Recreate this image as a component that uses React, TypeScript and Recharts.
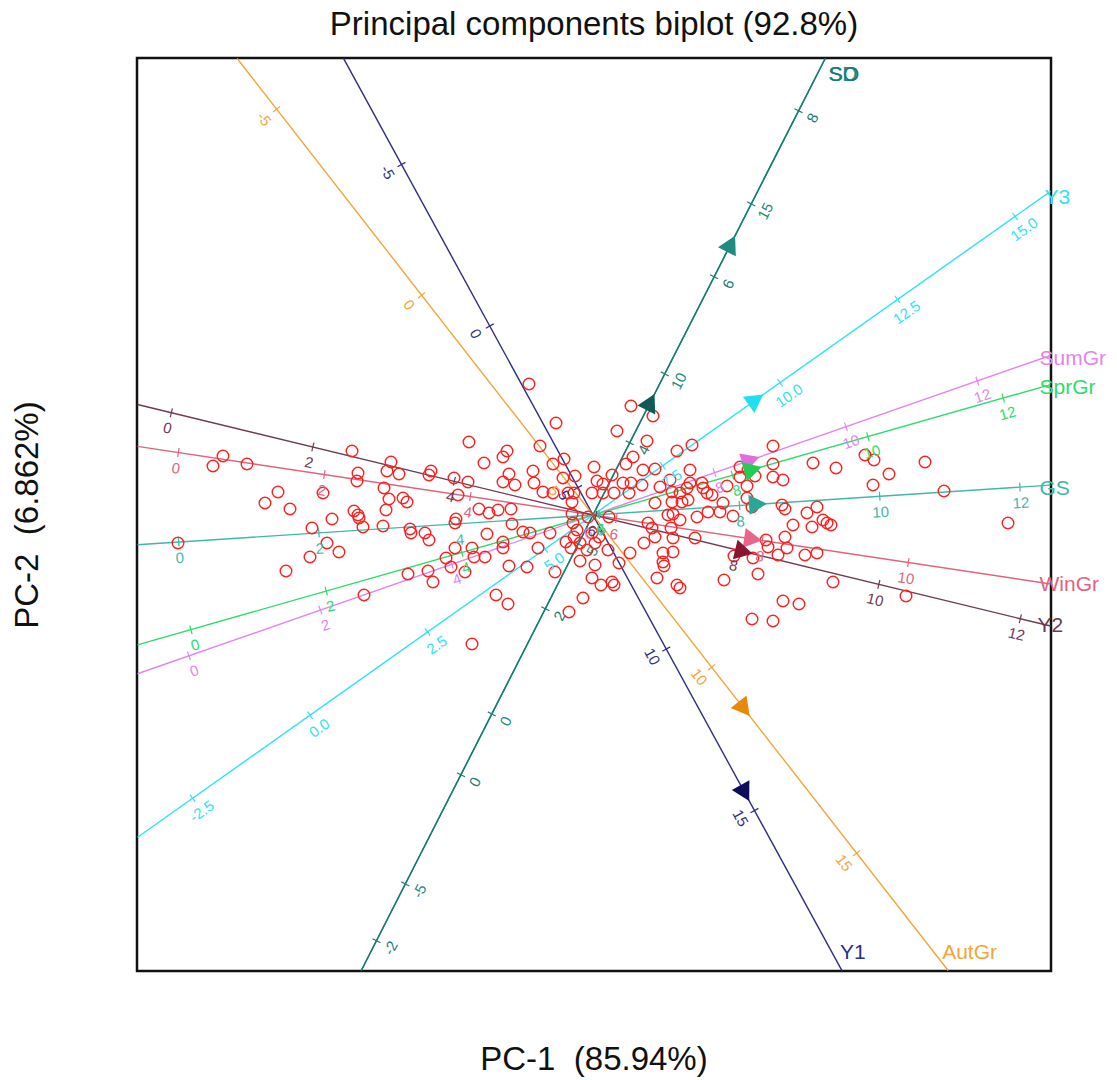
import React from 'react'
import { ScatterChart, Scatter, XAxis, YAxis, ReferenceLine, ReferenceArea } from 'recharts'

// genotype scores (PC-1, PC-2)
const pc1 = [
  -1.24, -0.86, -0.9, -1.09, -2.41, -3.7, -3.8, -3.46, -2.02, -2.35, -2.36, -2.06, -1.94, -1.62, -1.64, -1.39, -1.25, -0.84,
  -0.9, -0.78, -2.7, -3.15, -3.28, -3.03, -2.09, -2.04, -1.9, -1.86, -2.07, -2.61, -2.39, -2.35, -2.34, -2.3, -2.1, -1.35,
  -1.14, -1.04, -0.95, -0.82, -1.37, -1.38, -0.81, -2.81, -1.83, -1.82, -1.68, -1.64, -1.06, -4.15, -2.66, -2.54, -2.83, -3.07,
  -1.38, -1.21, -1.19, -1.08, -0.9, -0.9, -1.47, -1.42, -1.28, -0.84, -1.85, -1.65, -1.6, -2.29, -0.97, -0.85, -1.21,
  -0.64, -0.37, -0.53, 0.24, 0.38, -0.6, -0.4, -0.29, 0.01, 0.19, 0.33, 0.4, 0.5, -0.59, -0.5, -0.3, -0.18, 0.04, 0.1, 0.3,
  0.38, 0.49, -0.4, -0.25, -0.19, -0.01, 0.1, 0.21, 0.36, -0.21, -0.21, -0.2, -0.05, 0.16, -0.63, -0.7, -0.16, -0.19, -0.01,
  0.06, -0.27, -0.22, -0.13, -0.06, 0.02, 0.15, -0.55, 0.37, 0.51, -0.43, -0.66, -0.13, 0.02, -0.38, -0.01, 0.08, 0.19, 0.21,
  0.26, -0.1, -0.24,
  0.6, 0.54, 0.84, 0.99, 1.8, 2.2, 2.43, 1.8, 1.8, 1.9, 1.62, 1.55, 1.47, 1.47, 1.34, 1.54, 0.62, 0.67, 0.77, 0.79, 0.97, 0.97,
  0.94, 1.09, 1.1, 1.14, 0.87, 0.62, 0.79, 0.89, 0.95, 1.19, 1.3, 1.27, 1.54, 1.59, 1.89, 1.92, 2.14, 2.24, 2.3, 2.34, 2.38,
  2.19, 2.0, 1.4, 1.15, 1.04, 0.75, 0.8, 0.87, 0.55, 0.59, 0.78, 0.62, 0.8, 0.8, 0.7, 1.02, 1.73, 1.75, 1.92, 1.94, 1.85, 2.12,
  2.24, 1.41, 2.72, 2.81, 2.96, 2.8, 3.32, 3.51, 4.15,
  0.7, 0.71, 0.64, 0.84, 0.87, 1.31, 1.65, 1.6, 2.4, 1.9, 2.06, 1.59, 1.8, 3.13,
]
const pc2 = [
  0.73, 0.64, 0.58, 0.52, 0.64, 0.59, 0.49, 0.51, 0.53, 0.42, 0.34, 0.44, 0.41, 0.44, 0.4, 0.37, 0.33, 0.41,
  0.33, 0.3, 0.22, 0.23, 0.12, 0.06, 0.27, 0.16, 0.17, 0.13, 0.05, -0.04, 0.04, 0.0, -0.03, -0.12, -0.11, 0.2,
  0.06, 0.02, 0.05, 0.06, -0.04, -0.08, -0.09, -0.13, -0.14, -0.18, -0.18, -0.25, -0.19, -0.28, -0.28, -0.37, -0.42, -0.56,
  -0.33, -0.33, -0.42, -0.42, -0.27, -0.33, -0.43, -0.52, -0.57, -0.51, -0.59, -0.56, -0.67, -0.8, -0.8, -0.89, -1.29,
  1.31, 0.92, 0.69, 0.84, 1.09, 0.44, 0.51, 0.56, 0.48, 0.4, 0.51, 0.58, 0.45, 0.32, 0.23, 0.37, 0.39, 0.34, 0.31, 0.32,
  0.32, 0.3, 0.22, 0.22, 0.22, 0.22, 0.22, 0.22, 0.22, 0.13, 0.01, -0.08, -0.02, -0.02, -0.18, -0.17, -0.15, -0.22, -0.18,
  -0.22, -0.27, -0.33, -0.28, -0.35, -0.28, -0.35, -0.33, -0.38, -0.28, -0.18, -0.52, -0.46, -0.5, -0.57, -0.63, -0.7, -0.67, -0.7,
  -0.48, -0.83, -0.97,
  0.99, 0.74, 0.64, 0.7, 0.69, 0.52, 0.47, 0.51, 0.38, 0.35, 0.39, 0.45, 0.48, 0.38, 0.29, 0.29, 0.46, 0.28, 0.35, 0.23, 0.45, 0.32,
  0.27, 0.32, 0.27, 0.22, 0.22, 0.12, 0.13, 0.13, 0.15, 0.2, 0.12, 0.03, 0.17, 0.08, 0.1, 0.06, 0.02, 0.08, -0.05, -0.08, -0.1,
  -0.12, -0.1, -0.01, 0.03, -0.02, 0.0, 0.01, -0.05, -0.08, -0.13, -0.13, -0.22, -0.23, -0.37, -0.38, -0.23, -0.25, -0.32, -0.22, -0.33, -0.4, -0.4,
  -0.38, -0.41, 0.6, 0.55, 0.41, 0.3, 0.53, 0.24, -0.08,
  -0.47, -0.51, -0.63, -0.7, -0.73, -0.65, -0.59, -0.43, -0.67, -0.86, -0.89, -1.04, -1.06, -0.81,
]

// trait axes: value at origin, displacement per unit, calibration ticks, vector marker
const traits = ['SD', 'SO', 'Y3', 'SumGr', 'SprGr', 'GS', 'WinGr', 'Y2', 'Y1', 'AutGr']
const traitMean = [5.85, 3.13, 6.02, 6.15, 5.94, 5.91, 5.68, 5.96, 5.85, 5.91]
const traitLoadX = [0.173, 0.422, 0.47, 0.657, 0.677, 0.701, 0.73, 0.7075, 0.1765, 0.29]
const traitLoadY = [0.34, 0.83, 0.3325, 0.229, 0.193, 0.0458, -0.11, -0.1717, -0.323, -0.372]
const traitTicks = [
  [-5, 0, 5, 10, 15],
  [-2, 0, 2, 4, 6, 8],
  [-2.5, 0, 2.5, 5, 7.5, 10, 12.5, 15],
  [0, 2, 4, 6, 8, 10, 12],
  [0, 2, 4, 6, 8, 10, 12],
  [0, 2, 4, 6, 8, 10, 12],
  [0, 2, 4, 6, 8, 10],
  [0, 2, 4, 6, 8, 10, 12],
  [-5, 0, 5, 10, 15],
  [-5, 0, 5, 10, 15],
]
const traitDecimals = [0, 0, 1, 0, 0, 0, 0, 0, 0, 0]
const traitMarker = [13.8, 4.48, 9.47, 8.54, 8.29, 8.25, 7.86, 8.08, 14.43, 11.1]

const lineColors = ['#1f8a80', '#1a7a72', '#2ee3f2', '#e485ec', '#2edc6c', '#3fb8a8', '#e2637e', '#6e3a55', '#2e2e80', '#f2a53a']
const markerColors = ['#1f8a80', '#0f5c56', '#22dff0', '#dd6fe0', '#22cc55', '#2aa596', '#e8668a', '#8a1530', '#0d0d5c', '#e8890c']
const nameOffsets = [[3, 15], [4, 15], [-6, 5], [-11, 2], [-11, 2], [-11, 2], [-11, 0], [-13, -2], [-2, -19], [-6, -19]]

const XMIN = -4.56
const XMAX = 4.58
const YMIN = -4.56
const YMAX = 4.57
const PX = 0.01
const FONT = '"Liberation Sans", Arial, sans-serif'

const scores = pc1.map((x, i) => ({ x, y: pc2[i] }))

function reach(dx: number, dy: number) {
  const tx = dx > 0 ? XMAX / dx : dx < 0 ? XMIN / dx : Infinity
  const ty = dy > 0 ? YMAX / dy : dy < 0 ? YMIN / dy : Infinity
  return Math.min(tx, ty) * 0.999
}
const inside = (x: number, y: number) => x > XMIN && x < XMAX && y > YMIN && y < YMAX

const axes = traits.map((name, i) => {
  const dx = traitLoadX[i]
  const dy = traitLoadY[i]
  const len = Math.hypot(dx, dy)
  const ux = dx / len
  const uy = dy / len
  const angle = (Math.atan2(-uy, ux) * 180) / Math.PI
  const px = uy
  const py = -ux
  const tF = reach(dx, dy)
  const tB = reach(-dx, -dy)
  const at = (v: number) => ({ x: (v - traitMean[i]) * dx, y: (v - traitMean[i]) * dy })
  const ticks = traitTicks[i]
    .map((v) => ({ v, p: at(v) }))
    .filter((t) => inside(t.p.x, t.p.y))
  const end = { x: dx * tF, y: dy * tF }
  return {
    name,
    color: lineColors[i],
    angle,
    line: [{ x: -dx * tB, y: -dy * tB }, end],
    tickMarks: ticks.map((t) => [
      { x: t.p.x + px * 0.045, y: t.p.y + py * 0.045 },
      { x: t.p.x - px * 0.045, y: t.p.y - py * 0.045 },
    ]),
    tickLabels: ticks.map((t) => ({
      x: t.p.x + px * 0.155,
      y: t.p.y + py * 0.155,
      text: t.v.toFixed(traitDecimals[i]),
      angle,
      color: lineColors[i],
    })),
    arrow: [{ ...at(traitMarker[i]), angle, color: markerColors[i] }],
    label: [{ x: end.x + nameOffsets[i][0] * PX, y: end.y - nameOffsets[i][1] * PX, text: name, color: lineColors[i] }],
  }
})

const TickText = (props: any) => {
  const { cx, cy, payload } = props
  return (
    <text x={cx} y={cy} fill={payload.color} fontSize={15} fontFamily={FONT} textAnchor="middle"
      dominantBaseline="central" transform={`rotate(${payload.angle} ${cx} ${cy})`}>
      {payload.text}
    </text>
  )
}

const NameText = (props: any) => {
  const { cx, cy, payload } = props
  return (
    <text x={cx} y={cy} fill={payload.color} fontSize={21} fontFamily={FONT} textAnchor="start" dominantBaseline="central">
      {payload.text}
    </text>
  )
}

const ArrowHead = (props: any) => {
  const { cx, cy, payload } = props
  const a = (payload.angle * Math.PI) / 180
  const ux = Math.cos(a)
  const uy = Math.sin(a)
  const pts = [
    [cx + ux * 10, cy + uy * 10],
    [cx - ux * 8 - uy * 10, cy - uy * 8 + ux * 10],
    [cx - ux * 8 + uy * 10, cy - uy * 8 - ux * 10],
  ]
  return <polygon points={pts.map((p) => p.join(',')).join(' ')} fill={payload.color} />
}

const OpenCircle = (props: any) => (
  <circle cx={props.cx} cy={props.cy} r={5.8} fill="none" stroke="#ff2020" strokeWidth={1.4} />
)

export default function App() {
  return (
    <div style={{ position: 'absolute', left: 0, top: 0, width: 1117, height: 1080, background: '#fff' }}>
      <ScatterChart width={1117} height={1080} margin={{ top: 58, right: 66, bottom: 109, left: 137 }}>
        <XAxis type="number" dataKey="x" domain={[XMIN, XMAX]} hide />
        <YAxis type="number" dataKey="y" domain={[YMIN, YMAX]} hide />
        {axes.map((a) => (
          <ReferenceLine key={`l-${a.name}`} segment={a.line} stroke={a.color} strokeWidth={1.4} ifOverflow="visible" />
        ))}
        {axes.map((a) =>
          a.tickMarks.map((seg, j) => (
            <ReferenceLine key={`t-${a.name}-${j}`} segment={seg} stroke={a.color} strokeWidth={1.2} ifOverflow="visible" />
          ))
        )}
        <ReferenceArea x1={XMIN} x2={XMAX} y1={YMIN} y2={YMAX} fill="none" stroke="#111" strokeWidth={2.5} ifOverflow="visible" />
        <Scatter data={scores} shape={OpenCircle} isAnimationActive={false} />
        {axes.map((a) => (
          <Scatter key={`tl-${a.name}`} data={a.tickLabels} shape={TickText} isAnimationActive={false} />
        ))}
        {axes.map((a) => (
          <Scatter key={`ar-${a.name}`} data={a.arrow} shape={ArrowHead} isAnimationActive={false} />
        ))}
        {axes.map((a) => (
          <Scatter key={`nm-${a.name}`} data={a.label} shape={NameText} isAnimationActive={false} />
        ))}
      </ScatterChart>
      <svg width={1117} height={1080} style={{ position: 'absolute', left: 0, top: 0, pointerEvents: 'none' }}>
        <text x={594} y={35} textAnchor="middle" fontSize={33} fontFamily={FONT} fill="#111">
          Principal components biplot (92.8%)
        </text>
        <text x={594} y={1070} textAnchor="middle" fontSize={33} fontFamily={FONT} fill="#111" style={{ whiteSpace: 'pre' }}>
          {'PC-1  (85.94%)'}
        </text>
        <text x={38} y={515} textAnchor="middle" fontSize={33} fontFamily={FONT} fill="#111" style={{ whiteSpace: 'pre' }}
          transform="rotate(-90 38 515)">
          {'PC-2  (6.862%)'}
        </text>
      </svg>
    </div>
  )
}
